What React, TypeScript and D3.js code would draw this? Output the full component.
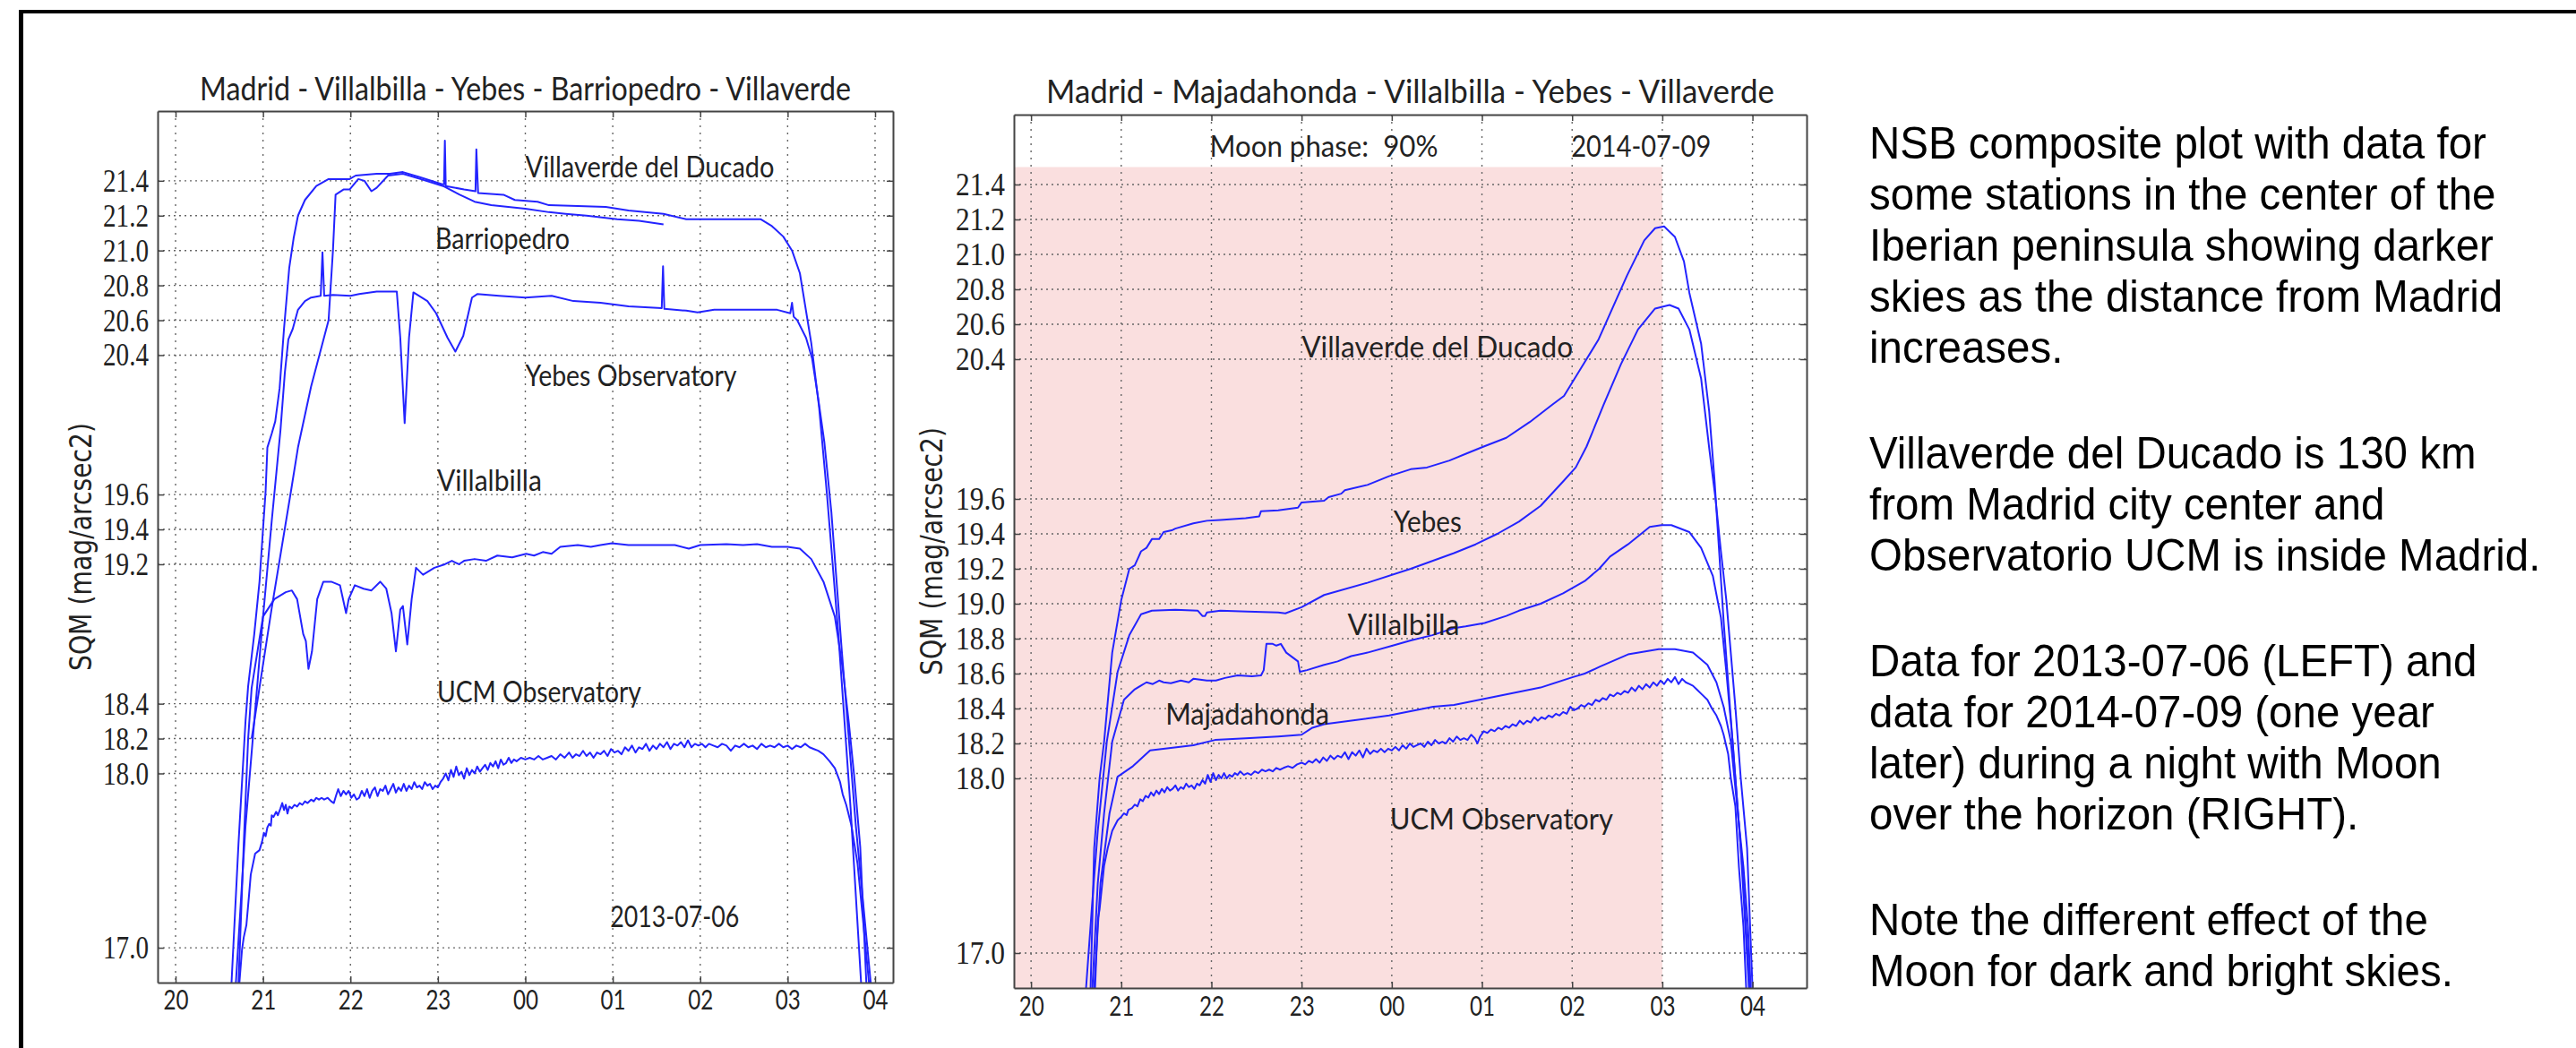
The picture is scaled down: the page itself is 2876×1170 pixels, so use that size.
import React, { useEffect, useRef } from 'react';
import * as d3 from 'd3';

const W = 2876;
const H = 1170;

// hours after 20:00 keep counting past midnight (24 = 00, 25 = 01, ...)
const HOUR_TICKS = [20, 21, 22, 23, 24, 25, 26, 27, 28];
const LEFT_Y_TICKS = [17.0, 18.0, 18.2, 18.4, 19.2, 19.4, 19.6, 20.4, 20.6, 20.8, 21.0, 21.2, 21.4];
const RIGHT_Y_TICKS = [17.0, 18.0, 18.2, 18.4, 18.6, 18.8, 19.0, 19.2, 19.4, 19.6, 20.4, 20.6, 20.8, 21.0, 21.2, 21.4];
const Y_DOMAIN = [16.8, 21.8];
const MOON_TOP = 21.5;
const MOON_END = 27;

const LEFT_TITLE = 'Madrid - Villalbilla - Yebes - Barriopedro - Villaverde';
const RIGHT_TITLE = 'Madrid - Majadahonda - Villalbilla - Yebes - Villaverde';
const Y_LABEL = 'SQM (mag/arcsec2)';

// ---- 2013-07-06 ----
const L_VILLAVERDE = [
  [20.64, 16.8], [20.72, 17.6], [20.8, 18.3], [20.83, 18.5], [20.9, 18.8], [20.96, 19.1], [21.0, 19.4], [21.03, 19.62],
  [21.05, 19.87], [21.1, 19.95], [21.14, 20.02], [21.19, 20.21], [21.24, 20.55], [21.3, 20.9], [21.35, 21.07], [21.4, 21.2],
  [21.48, 21.29], [21.61, 21.37], [21.75, 21.41], [21.99, 21.41], [22.06, 21.43], [22.3, 21.44], [22.45, 21.44], [22.6, 21.45],
  [22.8, 21.42], [23.05, 21.38], [23.07, 21.38], [23.08, 21.63], [23.09, 21.37], [23.3, 21.35], [23.43, 21.34], [23.44, 21.58],
  [23.46, 21.33], [23.75, 21.32], [23.88, 21.29], [24.14, 21.28], [24.27, 21.26], [24.6, 21.255], [24.92, 21.25], [25.18, 21.23],
  [25.58, 21.21], [25.84, 21.18], [26.3, 21.18], [26.69, 21.18], [26.82, 21.14], [26.95, 21.08], [27.05, 21.0], [27.14, 20.87],
  [27.27, 20.47], [27.36, 20.1], [27.45, 19.6], [27.58, 18.8], [27.72, 17.8], [27.84, 16.8],
];
const L_BARRIOPEDRO = [
  [20.87, 18.2], [21.1, 18.95], [21.32, 19.62], [21.4, 19.87], [21.55, 20.22], [21.75, 20.6], [21.8, 21.0], [21.83, 21.32],
  [21.92, 21.35], [21.99, 21.35], [22.09, 21.41], [22.16, 21.4], [22.24, 21.34], [22.3, 21.36], [22.43, 21.43], [22.6, 21.44],
  [22.8, 21.41], [23.06, 21.37], [23.25, 21.32], [23.42, 21.28], [23.61, 21.26], [24.0, 21.24], [24.27, 21.22], [24.46, 21.21],
  [24.7, 21.2], [25.05, 21.18], [25.3, 21.17], [25.58, 21.15],
];
const L_YEBES = [
  [20.69, 16.8], [20.8, 17.7], [20.9, 18.3], [20.99, 18.84], [21.1, 19.45], [21.2, 19.97], [21.25, 20.3], [21.29, 20.49],
  [21.34, 20.55], [21.4, 20.66], [21.48, 20.71], [21.55, 20.73], [21.66, 20.74], [21.68, 20.99], [21.7, 20.74], [21.8, 20.745],
  [22.0, 20.74], [22.1, 20.75], [22.3, 20.765], [22.53, 20.765], [22.57, 20.5], [22.62, 20.01], [22.67, 20.5], [22.72, 20.76],
  [22.88, 20.71], [22.98, 20.64], [23.11, 20.5], [23.2, 20.42], [23.29, 20.51], [23.39, 20.73], [23.45, 20.75], [23.7, 20.74],
  [24.0, 20.73], [24.3, 20.74], [24.55, 20.71], [24.86, 20.7], [25.18, 20.68], [25.56, 20.67], [25.575, 20.91], [25.59, 20.665],
  [25.84, 20.655], [25.97, 20.645], [26.16, 20.66], [26.5, 20.66], [26.88, 20.66], [27.03, 20.64], [27.05, 20.7], [27.07, 20.62],
  [27.11, 20.6], [27.21, 20.5], [27.28, 20.38], [27.35, 20.15], [27.42, 19.9], [27.5, 19.5], [27.62, 18.7], [27.78, 17.7],
  [27.95, 16.8],
];
const L_VILLALBILLA = [
  [20.72, 16.8], [20.78, 17.6], [20.83, 18.2], [20.87, 18.49], [21.0, 18.9], [21.13, 19.0], [21.26, 19.04], [21.33, 19.05],
  [21.39, 19.0], [21.46, 18.8], [21.49, 18.76], [21.52, 18.6], [21.56, 18.7], [21.62, 19.0], [21.69, 19.1], [21.78, 19.1],
  [21.88, 19.08], [21.95, 18.92], [21.98, 19.0], [22.05, 19.08], [22.15, 19.06], [22.24, 19.05], [22.34, 19.1], [22.41, 19.06],
  [22.47, 18.92], [22.52, 18.7], [22.57, 18.94], [22.6, 18.96], [22.65, 18.74], [22.7, 19.0], [22.75, 19.18], [22.83, 19.14],
  [22.96, 19.18], [23.08, 19.2], [23.16, 19.22], [23.24, 19.2], [23.3, 19.22], [23.42, 19.23], [23.55, 19.22], [23.68, 19.25],
  [23.85, 19.24], [24.01, 19.26], [24.1, 19.25], [24.2, 19.27], [24.3, 19.26], [24.4, 19.3], [24.6, 19.31], [24.75, 19.3],
  [24.86, 19.31], [24.99, 19.32], [25.18, 19.31], [25.5, 19.31], [25.71, 19.31], [25.87, 19.29], [26.0, 19.31], [26.3, 19.315],
  [26.49, 19.31], [26.65, 19.315], [26.82, 19.3], [27.0, 19.3], [27.14, 19.29], [27.27, 19.23], [27.41, 19.1], [27.54, 18.9],
  [27.63, 18.6], [27.7, 18.29], [27.76, 17.99], [27.83, 17.58], [27.9, 16.8],
];
const L_UCM = [
  [20.73, 16.8], [20.76, 16.99], [20.78, 17.06], [20.81, 17.13], [20.84, 17.3], [20.86, 17.42], [20.91, 17.54], [20.96, 17.56],
  [20.99, 17.61], [21.01, 17.66], [21.03, 17.64], [21.05, 17.69], [21.07, 17.71], [21.09, 17.7], [21.1, 17.76], [21.12, 17.75],
  [21.15, 17.78], [21.17, 17.76], [21.2, 17.8], [21.22, 17.83], [21.24, 17.79], [21.26, 17.82], [21.28, 17.77], [21.3, 17.81],
  [21.33, 17.8], [21.36, 17.82], [21.39, 17.81], [21.42, 17.83], [21.45, 17.82], [21.48, 17.84], [21.51, 17.83], [21.55, 17.85],
  [21.58, 17.84], [21.61, 17.86], [21.64, 17.85], [21.67, 17.86], [21.7, 17.85], [21.74, 17.86], [21.78, 17.84], [21.81, 17.83],
  [21.84, 17.88], [21.86, 17.91], [21.89, 17.87], [21.92, 17.9], [21.95, 17.88], [21.98, 17.9], [22.01, 17.86], [22.04, 17.88],
  [22.07, 17.85], [22.1, 17.86], [22.13, 17.9], [22.16, 17.87], [22.19, 17.91], [22.22, 17.86], [22.25, 17.9], [22.28, 17.92],
  [22.31, 17.87], [22.34, 17.91], [22.37, 17.9], [22.4, 17.93], [22.43, 17.88], [22.46, 17.91], [22.49, 17.94], [22.52, 17.89],
  [22.55, 17.92], [22.58, 17.9], [22.61, 17.94], [22.64, 17.9], [22.67, 17.93], [22.7, 17.91], [22.73, 17.95], [22.76, 17.92],
  [22.79, 17.93], [22.82, 17.91], [22.85, 17.95], [22.88, 17.93], [22.91, 17.94], [22.94, 17.91], [22.97, 17.93], [23.0, 17.92],
  [23.03, 17.95], [23.06, 17.97], [23.09, 18.0], [23.12, 17.96], [23.15, 18.02], [23.18, 17.98], [23.21, 18.04], [23.24, 17.99],
  [23.27, 18.01], [23.3, 17.97], [23.33, 18.03], [23.36, 17.99], [23.39, 18.02], [23.42, 18.0], [23.45, 18.04], [23.48, 18.01],
  [23.51, 18.03], [23.54, 18.05], [23.57, 18.02], [23.6, 18.06], [23.63, 18.04], [23.66, 18.07], [23.69, 18.03], [23.72, 18.08],
  [23.75, 18.05], [23.78, 18.06], [23.81, 18.09], [23.84, 18.06], [23.87, 18.08], [23.9, 18.07], [23.95, 18.09], [24.0, 18.08],
  [24.05, 18.09], [24.1, 18.08], [24.15, 18.1], [24.2, 18.08], [24.25, 18.09], [24.3, 18.1], [24.35, 18.08], [24.4, 18.11],
  [24.45, 18.09], [24.5, 18.12], [24.54, 18.09], [24.58, 18.11], [24.62, 18.1], [24.66, 18.13], [24.7, 18.1], [24.74, 18.12],
  [24.78, 18.09], [24.82, 18.12], [24.86, 18.11], [24.9, 18.13], [24.94, 18.1], [24.98, 18.14], [25.02, 18.12], [25.06, 18.13],
  [25.1, 18.11], [25.14, 18.15], [25.18, 18.13], [25.22, 18.16], [25.26, 18.12], [25.3, 18.15], [25.34, 18.14], [25.38, 18.17],
  [25.42, 18.13], [25.46, 18.16], [25.5, 18.14], [25.54, 18.17], [25.58, 18.15], [25.62, 18.18], [25.66, 18.14], [25.7, 18.17],
  [25.74, 18.16], [25.78, 18.18], [25.82, 18.15], [25.86, 18.19], [25.9, 18.15], [25.94, 18.17], [25.98, 18.16], [26.02, 18.17],
  [26.06, 18.15], [26.1, 18.17], [26.15, 18.16], [26.2, 18.15], [26.25, 18.17], [26.3, 18.16], [26.35, 18.13], [26.4, 18.16],
  [26.45, 18.15], [26.5, 18.17], [26.55, 18.15], [26.6, 18.16], [26.65, 18.14], [26.7, 18.17], [26.75, 18.15], [26.8, 18.16],
  [26.85, 18.15], [26.9, 18.17], [26.95, 18.15], [27.0, 18.16], [27.05, 18.14], [27.1, 18.16], [27.15, 18.15], [27.2, 18.17],
  [27.25, 18.15], [27.3, 18.14], [27.35, 18.13], [27.41, 18.11], [27.48, 18.07], [27.54, 18.03], [27.6, 17.95], [27.63, 17.88],
  [27.67, 17.82], [27.73, 17.7], [27.8, 17.48], [27.86, 17.17], [27.93, 16.8],
];

// ---- 2014-07-09 ----
const R_VILLAVERDE = [
  [20.66, 16.8], [20.7, 17.6], [20.76, 18.0], [20.81, 18.21], [20.9, 18.72], [21.0, 19.02], [21.09, 19.2], [21.15, 19.22],
  [21.22, 19.3], [21.28, 19.32], [21.34, 19.37], [21.42, 19.37], [21.47, 19.41], [21.56, 19.42], [21.6, 19.43], [21.8, 19.46],
  [21.95, 19.475], [22.1, 19.48], [22.38, 19.49], [22.53, 19.5], [22.55, 19.53], [22.74, 19.535], [22.96, 19.55], [23.0, 19.58],
  [23.25, 19.59], [23.3, 19.61], [23.44, 19.63], [23.48, 19.65], [23.73, 19.68], [23.97, 19.73], [24.21, 19.77], [24.39, 19.78],
  [24.64, 19.82], [24.83, 19.86], [25.02, 19.9], [25.27, 19.95], [25.53, 20.04], [25.78, 20.14], [25.91, 20.19], [26.1, 20.35],
  [26.29, 20.51], [26.48, 20.73], [26.61, 20.88], [26.8, 21.08], [26.92, 21.15], [27.02, 21.16], [27.14, 21.1], [27.24, 20.96],
  [27.3, 20.78], [27.43, 20.49], [27.52, 20.1], [27.58, 19.7], [27.63, 19.3], [27.68, 18.9], [27.75, 18.41], [27.81, 18.0],
  [27.87, 17.6], [27.96, 16.8],
];
const R_YEBES = [
  [20.61, 16.8], [20.68, 17.3], [20.74, 17.7], [20.84, 18.21], [20.96, 18.61], [21.09, 18.82], [21.22, 18.94], [21.34, 18.96],
  [21.6, 18.965], [21.85, 18.96], [21.9, 18.93], [21.93, 18.93], [21.95, 18.95], [22.1, 18.96], [22.4, 18.955], [22.74, 18.95],
  [22.82, 18.945], [23.0, 18.98], [23.25, 19.05], [23.73, 19.12], [24.21, 19.2], [24.69, 19.29], [24.93, 19.34], [25.17, 19.4],
  [25.41, 19.47], [25.65, 19.56], [25.9, 19.7], [26.04, 19.78], [26.16, 19.9], [26.35, 20.14], [26.54, 20.37], [26.73, 20.57],
  [26.92, 20.69], [27.08, 20.71], [27.18, 20.69], [27.3, 20.57], [27.43, 20.29], [27.52, 19.89], [27.59, 19.6], [27.65, 19.3],
  [27.71, 19.02], [27.81, 18.41], [27.87, 18.0], [27.94, 17.6], [28.0, 16.8],
];
const R_VILLALBILLA = [
  [20.68, 16.8], [20.74, 17.4], [20.81, 17.8], [20.9, 18.21], [21.03, 18.45], [21.15, 18.51], [21.28, 18.55], [21.35, 18.54],
  [21.42, 18.56], [21.47, 18.55], [21.55, 18.545], [21.66, 18.56], [21.75, 18.55], [21.8, 18.57], [21.95, 18.56], [22.05, 18.56],
  [22.15, 18.575], [22.29, 18.59], [22.45, 18.585], [22.55, 18.59], [22.58, 18.62], [22.61, 18.77], [22.68, 18.77], [22.72, 18.76],
  [22.77, 18.77], [22.83, 18.72], [22.96, 18.67], [22.98, 18.61], [23.06, 18.62], [23.25, 18.65], [23.4, 18.67], [23.55, 18.7],
  [23.73, 18.72], [24.01, 18.76], [24.21, 18.79], [24.45, 18.82], [24.69, 18.86], [24.82, 18.87], [25.03, 18.89], [25.27, 18.93],
  [25.41, 18.96], [25.65, 19.0], [25.9, 19.06], [26.14, 19.13], [26.3, 19.2], [26.42, 19.27], [26.62, 19.34], [26.86, 19.44],
  [26.99, 19.45], [27.1, 19.45], [27.3, 19.41], [27.43, 19.32], [27.56, 19.16], [27.65, 18.92], [27.71, 18.61], [27.78, 18.21],
  [27.84, 17.8], [27.9, 17.4], [27.97, 16.8],
];
const R_MAJADAHONDA = [
  [20.7, 16.8], [20.77, 17.4], [20.87, 17.8], [20.96, 18.01], [21.13, 18.07], [21.32, 18.16], [21.8, 18.19], [22.04, 18.22],
  [22.38, 18.23], [22.74, 18.24], [23.0, 18.25], [23.12, 18.29], [23.25, 18.31], [23.97, 18.36], [24.46, 18.41], [24.69, 18.42],
  [25.17, 18.47], [25.65, 18.52], [26.01, 18.58], [26.14, 18.6], [26.31, 18.64], [26.62, 18.71], [26.96, 18.74], [27.14, 18.74],
  [27.34, 18.72], [27.5, 18.65], [27.6, 18.55], [27.68, 18.41], [27.76, 18.21], [27.83, 17.84], [27.9, 17.49], [27.95, 17.15],
  [27.98, 16.8],
];
const R_UCM = [
  [20.71, 16.8], [20.74, 17.19], [20.76, 17.25], [20.77, 17.3], [20.79, 17.4], [20.81, 17.5], [20.85, 17.6], [20.9, 17.7],
  [20.96, 17.76], [21.0, 17.78], [21.03, 17.8], [21.06, 17.79], [21.08, 17.82], [21.12, 17.83], [21.15, 17.85], [21.18, 17.84],
  [21.21, 17.88], [21.24, 17.87], [21.27, 17.9], [21.3, 17.89], [21.33, 17.92], [21.36, 17.9], [21.39, 17.93], [21.42, 17.91],
  [21.45, 17.94], [21.48, 17.92], [21.51, 17.95], [21.54, 17.93], [21.57, 17.94], [21.6, 17.96], [21.63, 17.93], [21.66, 17.95],
  [21.69, 17.94], [21.72, 17.97], [21.75, 17.95], [21.78, 17.96], [21.81, 17.94], [21.84, 17.97], [21.87, 17.96], [21.9, 17.99],
  [21.93, 17.97], [21.96, 18.02], [21.99, 17.98], [22.02, 18.03], [22.05, 17.99], [22.08, 18.02], [22.11, 18.0], [22.14, 18.03],
  [22.17, 18.0], [22.2, 18.02], [22.23, 18.01], [22.26, 18.03], [22.29, 18.02], [22.32, 18.04], [22.36, 18.02], [22.4, 18.03],
  [22.44, 18.02], [22.48, 18.04], [22.52, 18.03], [22.56, 18.05], [22.6, 18.04], [22.64, 18.05], [22.68, 18.04], [22.72, 18.06],
  [22.76, 18.05], [22.8, 18.06], [22.85, 18.07], [22.9, 18.06], [22.95, 18.08], [23.0, 18.09], [23.04, 18.08], [23.08, 18.1],
  [23.12, 18.09], [23.16, 18.11], [23.2, 18.09], [23.24, 18.12], [23.28, 18.1], [23.32, 18.13], [23.36, 18.11], [23.4, 18.13],
  [23.44, 18.12], [23.48, 18.15], [23.52, 18.11], [23.56, 18.15], [23.6, 18.13], [23.64, 18.16], [23.68, 18.12], [23.72, 18.17],
  [23.76, 18.14], [23.8, 18.16], [23.84, 18.15], [23.88, 18.17], [23.92, 18.15], [23.96, 18.17], [24.0, 18.16], [24.04, 18.18],
  [24.08, 18.16], [24.12, 18.19], [24.16, 18.17], [24.2, 18.2], [24.24, 18.18], [24.28, 18.19], [24.32, 18.2], [24.36, 18.18],
  [24.4, 18.21], [24.44, 18.19], [24.48, 18.22], [24.52, 18.2], [24.56, 18.21], [24.6, 18.2], [24.64, 18.23], [24.68, 18.21],
  [24.72, 18.24], [24.76, 18.22], [24.8, 18.23], [24.84, 18.22], [24.88, 18.25], [24.92, 18.23], [24.95, 18.2], [24.98, 18.24],
  [25.02, 18.27], [25.06, 18.26], [25.1, 18.28], [25.14, 18.27], [25.18, 18.29], [25.22, 18.28], [25.26, 18.3], [25.3, 18.29],
  [25.34, 18.31], [25.38, 18.3], [25.42, 18.33], [25.46, 18.31], [25.5, 18.33], [25.54, 18.32], [25.58, 18.35], [25.62, 18.33],
  [25.66, 18.35], [25.7, 18.34], [25.74, 18.36], [25.78, 18.35], [25.82, 18.37], [25.86, 18.36], [25.9, 18.38], [25.94, 18.37],
  [25.98, 18.41], [26.02, 18.39], [26.06, 18.4], [26.1, 18.42], [26.14, 18.41], [26.18, 18.43], [26.22, 18.42], [26.26, 18.45],
  [26.3, 18.44], [26.34, 18.46], [26.38, 18.45], [26.42, 18.48], [26.46, 18.47], [26.5, 18.49], [26.54, 18.48], [26.58, 18.5],
  [26.62, 18.49], [26.66, 18.52], [26.7, 18.5], [26.74, 18.53], [26.78, 18.51], [26.82, 18.54], [26.86, 18.52], [26.9, 18.55],
  [26.94, 18.53], [26.98, 18.56], [27.02, 18.54], [27.06, 18.57], [27.1, 18.55], [27.14, 18.58], [27.18, 18.54], [27.22, 18.57],
  [27.26, 18.55], [27.3, 18.54], [27.34, 18.53], [27.38, 18.51], [27.44, 18.48], [27.5, 18.45], [27.55, 18.4], [27.6, 18.36],
  [27.65, 18.3], [27.68, 18.25], [27.73, 18.14], [27.76, 18.0], [27.81, 17.84], [27.85, 17.49], [27.9, 17.15], [27.93, 16.8],
];

// station labels: [text, hour, value at baseline]
const LEFT_LABELS = [
  ['Villaverde del Ducado', 24.0, 21.42],
  ['Barriopedro', 22.97, 21.01],
  ['Yebes Observatory', 24.0, 20.22],
  ['Villalbilla', 22.99, 19.62],
  ['UCM Observatory', 22.99, 18.41],
  ['2013-07-06', 24.97, 17.12],
];
const RIGHT_LABELS = [
  ['Moon phase:  90%', 21.98, 21.56],
  ['2014-07-09', 25.99, 21.56],
  ['Villaverde del Ducado', 23.0, 20.41],
  ['Yebes', 24.02, 19.41],
  ['Villalbilla', 23.51, 18.82],
  ['Majadahonda', 21.49, 18.31],
  ['UCM Observatory', 23.98, 17.71],
];

const NOTE_LINES = [
  'NSB composite plot with data for',
  'some stations in the center of the',
  'Iberian peninsula showing darker',
  'skies as the distance from Madrid',
  'increases.',
  '',
  'Villaverde del Ducado is 130 km',
  'from Madrid city center and',
  'Observatorio UCM is inside Madrid.',
  '',
  'Data for 2013-07-06 (LEFT) and',
  'data for 2014-07-09 (one year',
  'later) during a night with Moon',
  'over the horizon (RIGHT).',
  '',
  'Note the different effect of the',
  'Moon for dark and bright skies.',
];

// layout in pixels (the source figure is squeezed horizontally, hence the text widths)
const LEFT_BOX = { key: 'l', left: 176, right: 997, top: 124, bottom: 1097, xDomain: [19.795, 28.205], titleY: 112, titleW: 727, yLabelX: 102, yTickW: 51, xTickPad: 8,
  labelW: [278, 150, 236, 117, 228, 144] };
const RIGHT_BOX = { key: 'r', left: 1132, right: 2017, top: 128, bottom: 1103, xDomain: [19.81, 28.6], titleY: 115, titleW: 813, yLabelX: 1052, yTickW: 55, xTickPad: 9,
  labelW: [255, 156, 303, 76, 125, 183, 249] };

const BLUE = '#2323ff';
const INK = '#222';
const SANS = 'Lato, "Open Sans", sans-serif';

function drawPanel(svg, box, cfg) {
  const x = d3.scaleLinear().domain(box.xDomain).range([box.left, box.right]);
  const y = d3.scaleLinear().domain(Y_DOMAIN).range([box.bottom, box.top]);
  const g = svg.append('g');

  svg.append('defs').append('clipPath').attr('id', `clip-${box.key}`)
    .append('rect')
    .attr('x', box.left).attr('y', box.top)
    .attr('width', box.right - box.left).attr('height', box.bottom - box.top);

  // moon above the horizon
  if (cfg.moon) {
    g.append('rect')
      .attr('x', x(box.xDomain[0]))
      .attr('y', y(MOON_TOP))
      .attr('width', x(MOON_END) - x(box.xDomain[0]))
      .attr('height', y(Y_DOMAIN[0]) - y(MOON_TOP))
      .attr('fill', '#fadfdf');
  }

  // dotted grid
  g.append('g').selectAll('line').data(HOUR_TICKS).join('line')
    .attr('x1', d => x(d)).attr('x2', d => x(d))
    .attr('y1', box.top).attr('y2', box.bottom)
    .attr('stroke', '#666').attr('stroke-width', 1.4).attr('stroke-dasharray', '2,6');
  g.append('g').selectAll('line').data(cfg.yTicks).join('line')
    .attr('x1', box.left).attr('x2', box.right)
    .attr('y1', d => y(d)).attr('y2', d => y(d))
    .attr('stroke', '#666').attr('stroke-width', 1.4).attr('stroke-dasharray', '2,4');

  const line = d3.line().x(d => x(d[0])).y(d => y(d[1]));
  g.append('g').attr('clip-path', `url(#clip-${box.key})`)
    .selectAll('path').data(cfg.series).join('path')
    .attr('d', line)
    .attr('fill', 'none')
    .attr('stroke', BLUE)
    .attr('stroke-width', 2)
    .attr('stroke-linejoin', 'round');

  // axes: ticks point inwards on all four sides
  const fmtHour = d => String(d % 24).padStart(2, '0');
  const styleSpine = a => {
    a.select('.domain').attr('stroke', '#444').attr('stroke-width', 2);
    a.selectAll('.tick line').attr('stroke', '#444').attr('stroke-width', 1.5);
  };

  const yAxis = g.append('g').attr('transform', `translate(${box.left},0)`)
    .call(d3.axisLeft(y).tickValues(cfg.yTicks).tickSize(-7).tickSizeOuter(0).tickPadding(10).tickFormat(d3.format('.1f')));
  styleSpine(yAxis);
  yAxis.selectAll('.tick text')
    .attr('font-family', '"Liberation Serif", "Times New Roman", serif')
    .attr('font-size', 36).attr('fill', INK)
    .attr('textLength', box.yTickW).attr('lengthAdjust', 'spacingAndGlyphs');

  const yRight = g.append('g').attr('transform', `translate(${box.right},0)`)
    .call(d3.axisRight(y).tickValues(cfg.yTicks).tickSize(-7).tickSizeOuter(0).tickFormat(() => ''));
  styleSpine(yRight);

  const xAxis = g.append('g').attr('transform', `translate(0,${box.bottom})`)
    .call(d3.axisBottom(x).tickValues(HOUR_TICKS).tickSize(-7).tickSizeOuter(0).tickPadding(box.xTickPad).tickFormat(fmtHour));
  styleSpine(xAxis);
  xAxis.selectAll('.tick text')
    .attr('font-family', SANS).attr('font-size', 31).attr('fill', INK)
    .attr('textLength', 28).attr('lengthAdjust', 'spacingAndGlyphs');

  const xTop = g.append('g').attr('transform', `translate(0,${box.top})`)
    .call(d3.axisTop(x).tickValues(HOUR_TICKS).tickSize(-7).tickSizeOuter(0).tickFormat(() => ''));
  styleSpine(xTop);

  // title
  g.append('text')
    .attr('x', (box.left + box.right) / 2).attr('y', box.titleY)
    .attr('text-anchor', 'middle')
    .attr('font-family', SANS).attr('font-size', 37).attr('fill', INK)
    .attr('textLength', box.titleW).attr('lengthAdjust', 'spacingAndGlyphs')
    .text(cfg.title);

  // y label
  const cy = (box.top + box.bottom) / 2;
  g.append('text')
    .attr('transform', `translate(${box.yLabelX},${cy}) rotate(-90)`)
    .attr('text-anchor', 'middle')
    .attr('font-family', '"DejaVu Sans", sans-serif').attr('font-size', 33).attr('fill', INK)
    .attr('textLength', 277).attr('lengthAdjust', 'spacingAndGlyphs')
    .text(Y_LABEL);

  // station labels
  g.append('g').selectAll('text').data(cfg.labels).join('text')
    .attr('x', d => x(d[1])).attr('y', d => y(d[2]))
    .attr('font-family', SANS).attr('font-size', 32).attr('fill', INK)
    .style('white-space', 'pre')
    .attr('textLength', (d, i) => box.labelW[i]).attr('lengthAdjust', 'spacingAndGlyphs')
    .text(d => d[0]);
}

export default function App() {
  const svgRef = useRef(null);

  useEffect(() => {
    const svg = d3.select(svgRef.current);
    svg.selectAll('*').remove();

    svg.append('rect').attr('width', W).attr('height', H).attr('fill', '#fff');

    drawPanel(svg, LEFT_BOX, {
      title: LEFT_TITLE, yTicks: LEFT_Y_TICKS, labels: LEFT_LABELS, moon: false,
      series: [L_UCM, L_VILLALBILLA, L_YEBES, L_BARRIOPEDRO, L_VILLAVERDE],
    });
    drawPanel(svg, RIGHT_BOX, {
      title: RIGHT_TITLE, yTicks: RIGHT_Y_TICKS, labels: RIGHT_LABELS, moon: true,
      series: [R_UCM, R_MAJADAHONDA, R_VILLALBILLA, R_YEBES, R_VILLAVERDE],
    });

    // slide frame (only top and left edges are in view)
    svg.append('line').attr('x1', 21).attr('x2', W).attr('y1', 13).attr('y2', 13)
      .attr('stroke', '#000').attr('stroke-width', 4);
    svg.append('line').attr('x1', 23.5).attr('x2', 23.5).attr('y1', 11).attr('y2', H)
      .attr('stroke', '#000').attr('stroke-width', 5);

    // caption text, blank entries separate paragraphs
    let yy = 177;
    const ys = NOTE_LINES.map(t => {
      const cur = yy;
      yy += t === '' ? 61 : 57;
      return cur;
    });
    const notes = svg.append('g').attr('transform', 'translate(2087,0) scale(0.95,1)');
    notes.selectAll('text').data(NOTE_LINES).join('text')
      .attr('x', 0).attr('y', (d, i) => ys[i])
      .attr('font-family', '"Liberation Sans", Arial, sans-serif')
      .attr('font-size', 50).attr('fill', '#000')
      .text(d => d);
  }, []);

  return (
    <svg ref={svgRef} width={W} height={H} viewBox={`0 0 ${W} ${H}`}
      style={{ position: 'absolute', left: 0, top: 0, display: 'block' }} />
  );
}
